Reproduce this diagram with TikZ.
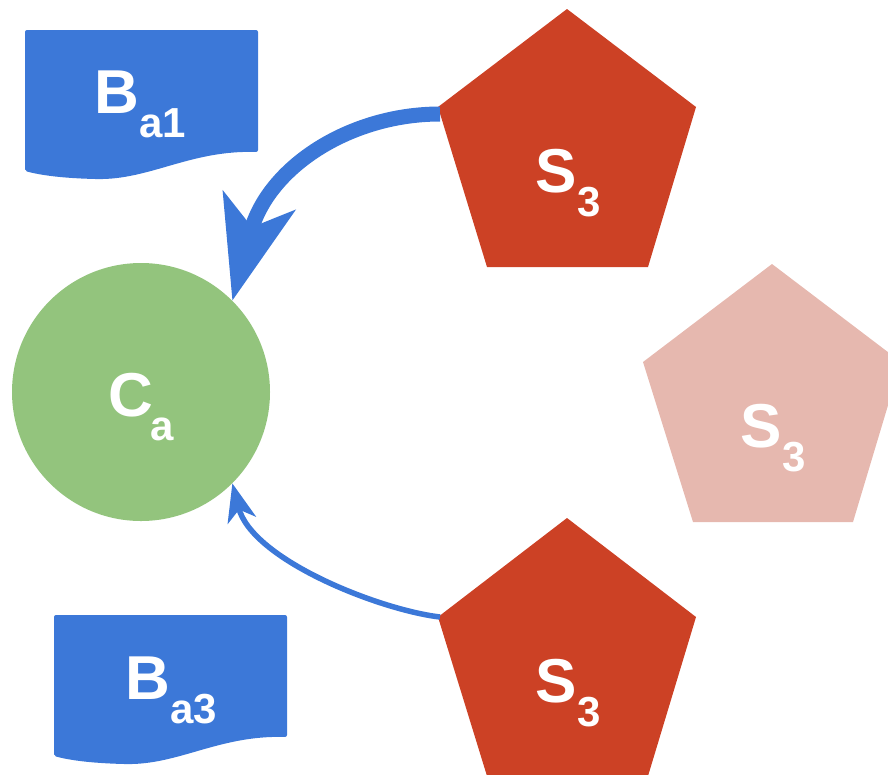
\documentclass[tikz,border=0pt]{standalone}
\usepackage{fontspec}
\setmainfont{Liberation Sans}
\usetikzlibrary{arrows.meta}
\definecolor{docblue}{HTML}{3C78D8}
\definecolor{cgreen}{HTML}{93C47D}
\definecolor{sred}{HTML}{CC4125}
\definecolor{sfade}{HTML}{E6B8AF}
\newcommand{\mylbl}[2]{{\fontsize{62}{62}\selectfont\bfseries #1}\raisebox{-24pt}{\fontsize{42}{42}\selectfont\bfseries #2}}
\begin{document}
\begin{tikzpicture}[x=1pt,y=-1pt,
  lbl/.style={text=white, anchor=base, inner sep=0pt},
  docshape/.style={fill=docblue, rounded corners=2pt},
  bigarrow/.style={draw=docblue, line width=15pt, -{Stealth[length=103pt,width=74pt,inset=27pt]}},
  smallarrow/.style={draw=docblue, line width=5.5pt, -{Stealth[length=38pt,width=29pt,inset=11pt]}}]
\useasboundingbox (0,0) rectangle (888,774);
\clip (0,0) rectangle (888,774);
% documents
\path[docshape] (25,171) -- (25,30) -- (258,30) -- (258,152)
  .. controls (190,150) and (150,180) .. (95,179)
  .. controls (60,178) and (40,175) .. (25,171) -- cycle;
\path[docshape] (54,756) -- (54,615) -- (287,615) -- (287,737)
  .. controls (219,735) and (179,765) .. (124,764)
  .. controls (89,763) and (69,760) .. (54,756) -- cycle;
% pentagons
\fill[sred] (567,9) -- (696,107) -- (648,267) -- (487,267) -- (438,107) -- cycle;
\fill[sfade] (772,264) -- (901,362) -- (853,522) -- (693,522) -- (643,362) -- cycle;
\fill[sred] (567,518) -- (696,617) -- (648,776) -- (487,776) -- (438,617) -- cycle;
% circle
\node[circle, fill=cgreen, minimum size=258pt, inner sep=0pt] (ca) at (141,392) {};
% labels
\node[lbl] (b1) at (140.5,113) {\mylbl{B}{a1}};
\node[lbl] (b3) at (171,699) {\mylbl{B}{a3}};
\node[lbl] (cl) at (141.5,416) {\mylbl{C\kern-3pt}{a}};
\node[lbl] (s1) at (568,192) {\mylbl{S}{3}};
\node[lbl] (s2) at (773,447) {\mylbl{S}{3}};
\node[lbl] (s3) at (568,702) {\mylbl{S}{3}};
% connectors
\coordinate (s1a) at (440,114);
\coordinate (s3a) at (440,617);
\draw[bigarrow] (s1a) .. controls (350,114) and (268,167) .. (ca.45);
\draw[smallarrow] (s3a) .. controls (380,610) and (252,560) .. (ca.-45);
\end{tikzpicture}
\end{document}
